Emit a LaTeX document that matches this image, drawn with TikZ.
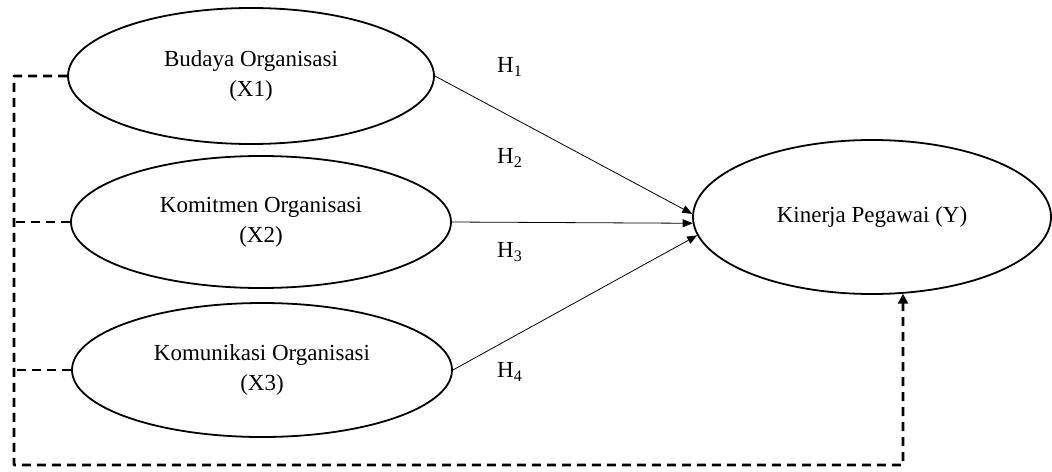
\documentclass[tikz,border=0pt]{standalone}
\usepackage{fontspec}
\setmainfont{Liberation Serif}
\usetikzlibrary{shapes.geometric,arrows.meta}
\begin{document}
\begin{tikzpicture}[x=.5pt, y=-.5pt, font=\fontsize{11.5}{15}\selectfont, line join=round, >={Triangle[length=5pt,width=4pt]},
	elip/.style={ellipse, draw, line width=.9pt, inner sep=0pt, align=center},
	putus/.style={line width=1.4pt, dash pattern=on 4.5pt off 3pt},
	panah/.style={->, line width=.4pt}]
	\useasboundingbox (0,0) rectangle (1052,471);
	\def\kiri{14} % garis putus kiri
	\def\bawah{465} % garis putus bawah
	\node[elip, minimum width=183pt, minimum height=68pt] (X1) at (251,76) {Budaya Organisasi\\(X1)};
	\node[elip, minimum width=190pt, minimum height=66pt] (X2) at (261,222) {Komitmen Organisasi\\(X2)};
	\node[elip, minimum width=190pt, minimum height=67pt] (X3) at (262,370) {Komunikasi Organisasi\\(X3)};
	\node[elip, minimum width=179pt, minimum height=77pt] (Y) at (872,217) {Kinerja Pegawai (Y)};
	\coordinate (KiB) at (\kiri,\bawah);
	\coordinate (KaB) at (903,\bawah);
	\draw[panah] (X1.east)--(Y.179);
	\draw[panah] (X2.east)--(Y.182);
	\draw[panah] (X3.east)--(Y.186);
	\node (H1) at (510,67) {H\textsubscript{1}};
	\node (H2) at (510,158) {H\textsubscript{2}};
	\node (H3) at (510,252) {H\textsubscript{3}};
	\node (H4) at (510,372) {H\textsubscript{4}};
	\draw[putus,->,>={Triangle[length=5pt,width=5pt]}] (X1.west)-|(KiB)--(KaB)--(Y.-68);
	\foreach \v in {X2,X3} \draw[putus] (\v.west)--(\v.west -| KiB);
\end{tikzpicture}
\end{document}
